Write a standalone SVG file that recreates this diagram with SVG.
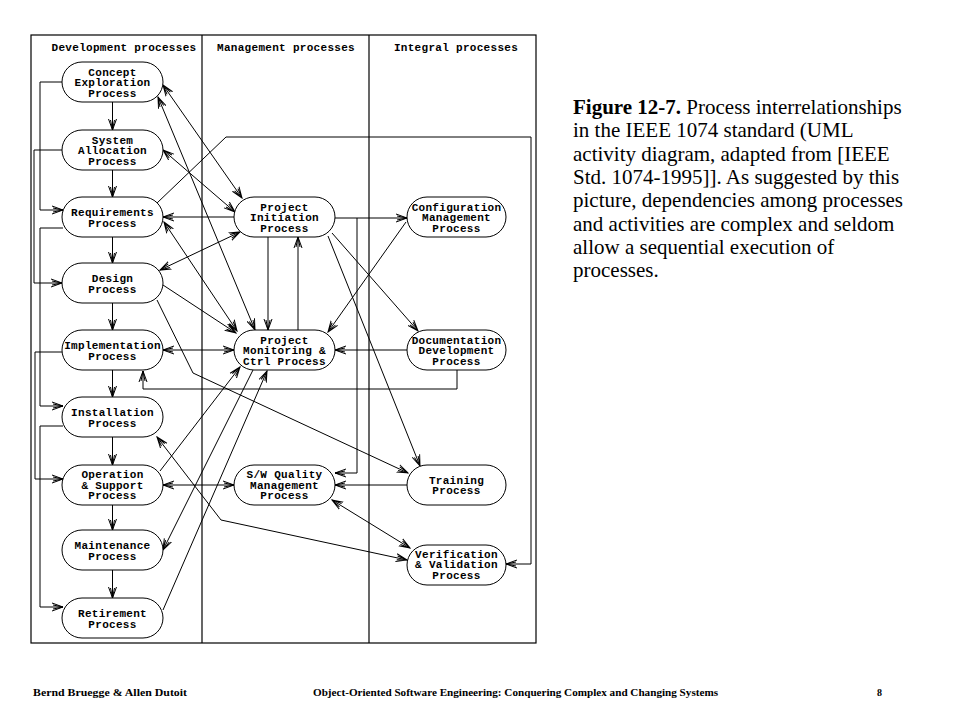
<svg xmlns="http://www.w3.org/2000/svg" width="960" height="720" viewBox="0 0 960 720">
<style>
.frame{fill:none;stroke:#000;stroke-width:1.2}
.node rect{fill:#fff;stroke:#000;stroke-width:1}
.node text,.hdr{font-family:"Liberation Mono","Courier New",monospace;font-weight:bold;font-size:11px;letter-spacing:0.3px;fill:#000;text-anchor:middle}
.c path{fill:none;stroke:#000;stroke-width:1}
.cap{font-family:"Liberation Serif","Times New Roman",serif;font-size:21px;fill:#000}
.foot{font-family:"Liberation Serif","Times New Roman",serif;font-weight:bold;font-size:10px;fill:#000}
</style>
<defs>
<marker id="a" viewBox="0 0 12 10" refX="11" refY="5" markerWidth="12" markerHeight="10" markerUnits="userSpaceOnUse" orient="auto-start-reverse">
<path d="M0,1 L11,5 L0,9 M1,3 L11,5 L1,7" fill="none" stroke="#000" stroke-width="1"/>
</marker>
</defs>
<rect width="960" height="720" fill="#fff"/>
<g id="swimlanes">
<rect class="frame" x="31" y="35" width="505" height="608"/>
<line x1="202" y1="35" x2="202" y2="643" stroke="#000" stroke-width="1.2"/>
<line x1="369" y1="35" x2="369" y2="643" stroke="#000" stroke-width="1.2"/>
<text class="hdr" x="124" y="51">Development processes</text>
<text class="hdr" x="286" y="51">Management processes</text>
<text class="hdr" x="456" y="51">Integral processes</text>
</g>
<g id="connectors" class="c">
<path d="M112.5,102 V130" marker-end="url(#a)"/>
<path d="M112.5,170 V197" marker-end="url(#a)"/>
<path d="M112.5,237 V263" marker-end="url(#a)"/>
<path d="M112.5,303 V330" marker-end="url(#a)"/>
<path d="M112.5,370 V397" marker-end="url(#a)"/>
<path d="M112.5,437 V465" marker-end="url(#a)"/>
<path d="M112.5,505 V530" marker-end="url(#a)"/>
<path d="M112.5,570 V598" marker-end="url(#a)"/>
<path d="M62,82 H40 V210 H63" marker-end="url(#a)"/>
<path d="M62,150 H34 V283 H62" marker-end="url(#a)"/>
<path d="M63,228 H40 V406 H63" marker-end="url(#a)"/>
<path d="M62,352 H35 V479 H63" marker-end="url(#a)"/>
<path d="M63,426 H40 V607 H63" marker-end="url(#a)"/>
<path d="M163,85 L242,198" marker-start="url(#a)" marker-end="url(#a)"/>
<path d="M158,97 L255,330" marker-start="url(#a)" marker-end="url(#a)"/>
<path d="M163,150 L235,212" marker-start="url(#a)" marker-end="url(#a)"/>
<path d="M157,203 L226,137 H531 V564 H506" marker-end="url(#a)"/>
<path d="M234,217 H163" marker-end="url(#a)"/>
<path d="M164,222 L237,331" marker-start="url(#a)" marker-end="url(#a)"/>
<path d="M160,270 L240,232" marker-start="url(#a)" marker-end="url(#a)"/>
<path d="M163,285 L236,333" marker-end="url(#a)"/>
<path d="M157,300 L193,373 L408,473" marker-end="url(#a)"/>
<path d="M163,350 H234" marker-start="url(#a)" marker-end="url(#a)"/>
<path d="M457,370 V389 H143 V371" marker-end="url(#a)"/>
<path d="M268,237 V330" marker-end="url(#a)"/>
<path d="M298,330 V237" marker-end="url(#a)"/>
<path d="M406,222 L328,332" marker-end="url(#a)"/>
<path d="M407,350 H335" marker-end="url(#a)"/>
<path d="M335,218 H407" marker-end="url(#a)"/>
<path d="M357,218 V473 H335" marker-end="url(#a)"/>
<path d="M332,233 L418,331" marker-end="url(#a)"/>
<path d="M328,236 L420,466" marker-end="url(#a)"/>
<path d="M160,471 L240,367" marker-end="url(#a)"/>
<path d="M253,370 L163,550" marker-end="url(#a)"/>
<path d="M163,610 L267,371" marker-end="url(#a)"/>
<path d="M157,437 L221,520 L407,560" marker-start="url(#a)" marker-end="url(#a)"/>
<path d="M163,485 H234" marker-start="url(#a)" marker-end="url(#a)"/>
<path d="M407,485 H335" marker-end="url(#a)"/>
<path d="M332,500 L410,548" marker-start="url(#a)" marker-end="url(#a)"/>
</g>
<g id="concept" class="node"><rect x="62" y="62" width="101" height="40" rx="20"/><text x="112.5" y="75.5">Concept</text><text x="112.5" y="86">Exploration</text><text x="112.5" y="96.5">Process</text></g>
<g id="sysalloc" class="node"><rect x="62" y="130" width="101" height="40" rx="20"/><text x="112.5" y="143.5">System</text><text x="112.5" y="154">Allocation</text><text x="112.5" y="164.5">Process</text></g>
<g id="requirements" class="node"><rect x="62" y="197" width="101" height="40" rx="20"/><text x="112.5" y="216">Requirements</text><text x="112.5" y="226.5">Process</text></g>
<g id="design" class="node"><rect x="62" y="263" width="101" height="40" rx="20"/><text x="112.5" y="282">Design</text><text x="112.5" y="292.5">Process</text></g>
<g id="implementation" class="node"><rect x="62" y="330" width="101" height="40" rx="20"/><text x="112.5" y="349">Implementation</text><text x="112.5" y="359.5">Process</text></g>
<g id="installation" class="node"><rect x="62" y="397" width="101" height="40" rx="20"/><text x="112.5" y="416">Installation</text><text x="112.5" y="426.5">Process</text></g>
<g id="operation" class="node"><rect x="62" y="465" width="101" height="40" rx="20"/><text x="112.5" y="478">Operation</text><text x="112.5" y="488.5">&amp; Support</text><text x="112.5" y="499">Process</text></g>
<g id="maintenance" class="node"><rect x="62" y="530" width="101" height="40" rx="20"/><text x="112.5" y="549">Maintenance</text><text x="112.5" y="559.5">Process</text></g>
<g id="retirement" class="node"><rect x="62" y="598" width="101" height="40" rx="20"/><text x="112.5" y="617">Retirement</text><text x="112.5" y="627.5">Process</text></g>
<g id="initiation" class="node"><rect x="234" y="197" width="101" height="40" rx="20"/><text x="284.5" y="210.5">Project</text><text x="284.5" y="221">Initiation</text><text x="284.5" y="231.5">Process</text></g>
<g id="monitoring" class="node"><rect x="234" y="330" width="101" height="40" rx="20"/><text x="284.5" y="343.5">Project</text><text x="284.5" y="354">Monitoring &amp;</text><text x="284.5" y="364.5">Ctrl Process</text></g>
<g id="quality" class="node"><rect x="234" y="465" width="101" height="40" rx="20"/><text x="284.5" y="478">S/W Quality</text><text x="284.5" y="488.5">Management</text><text x="284.5" y="499">Process</text></g>
<g id="configuration" class="node"><rect x="407" y="197" width="99" height="40" rx="20"/><text x="456.5" y="210.5">Configuration</text><text x="456.5" y="221">Management</text><text x="456.5" y="231.5">Process</text></g>
<g id="documentation" class="node"><rect x="407" y="330" width="99" height="40" rx="20"/><text x="456.5" y="343.5">Documentation</text><text x="456.5" y="354">Development</text><text x="456.5" y="364.5">Process</text></g>
<g id="training" class="node"><rect x="407" y="465" width="99" height="40" rx="20"/><text x="456.5" y="483.5">Training</text><text x="456.5" y="494">Process</text></g>
<g id="verification" class="node"><rect x="407" y="545" width="99" height="40" rx="20"/><text x="456.5" y="557.5">Verification</text><text x="456.5" y="568">&amp; Validation</text><text x="456.5" y="578.5">Process</text></g>
<g id="caption" class="cap">
<text x="573" y="114"><tspan font-weight="bold">Figure 12-7.</tspan> Process interrelationships</text>
<text x="573" y="137.3">in the IEEE 1074 standard (UML</text>
<text x="573" y="160.6">activity diagram, adapted from [IEEE</text>
<text x="573" y="183.9">Std. 1074-1995]]. As suggested by this</text>
<text x="573" y="207.2">picture, dependencies among processes</text>
<text x="573" y="230.5">and activities are complex and seldom</text>
<text x="573" y="253.8">allow a sequential execution of</text>
<text x="573" y="277.1">processes.</text>
</g>
<g id="footer" class="foot">
<text x="33" y="696" textLength="154" lengthAdjust="spacingAndGlyphs">Bernd Bruegge &amp; Allen Dutoit</text>
<text x="313" y="696" textLength="405" lengthAdjust="spacingAndGlyphs">Object-Oriented Software Engineering: Conquering Complex and Changing Systems</text>
<text x="877" y="696">8</text>
</g>
</svg>
